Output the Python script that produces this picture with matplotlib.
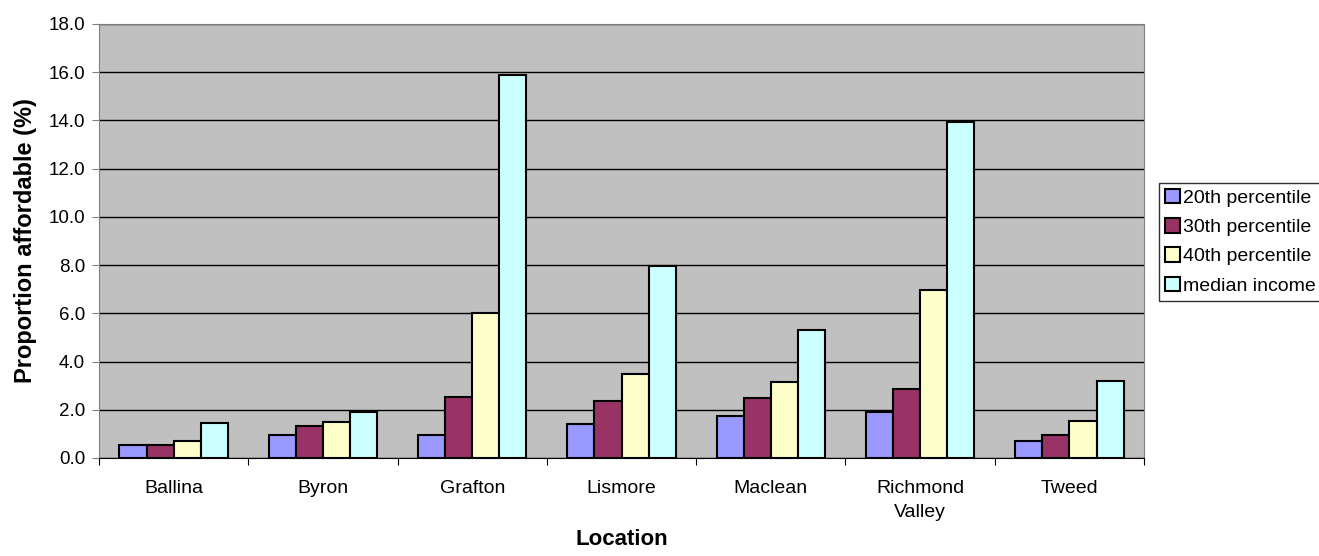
import numpy as np
import matplotlib
matplotlib.use('Agg')
import matplotlib.pyplot as plt

plt.rcParams['font.family'] = ['Liberation Sans', 'DejaVu Sans']

locations = ['Ballina', 'Byron', 'Grafton', 'Lismore', 'Maclean', 'Richmond\nValley', 'Tweed']
series_names = ['20th percentile', '30th percentile', '40th percentile', 'median income']
p20 = [0.55, 0.94, 0.95, 1.41, 1.76, 1.90, 0.72]
p30 = [0.55, 1.31, 2.52, 2.38, 2.48, 2.87, 0.96]
p40 = [0.72, 1.51, 6.02, 3.49, 3.17, 6.95, 1.52]
median = [1.45, 1.89, 15.87, 7.96, 5.29, 13.92, 3.18]
colors = ['#9999FF', '#993366', '#FFFFCC', '#CCFFFF']

fig = plt.figure(figsize=(13.19, 5.56), dpi=100)
ax = fig.add_axes([99 / 1319, 98 / 556, 1045 / 1319, 434 / 556])
ax.set_facecolor('#C0C0C0')

x = np.arange(len(locations))
width = 1 / 5.5
for i, (vals, name, col) in enumerate(zip([p20, p30, p40, median], series_names, colors)):
    ax.bar(x + (i - 1.5) * width, vals, width, color=col, edgecolor='black',
           linewidth=1.5, label=name, zorder=3)

ax.set_xlim(-0.5, len(locations) - 0.5)
ax.set_ylim(0, 18)
ax.set_yticks(np.arange(0, 18.1, 2))
ax.set_yticklabels(['%.1f' % v for v in np.arange(0, 18.1, 2)])
ax.yaxis.grid(True, color='black', linewidth=1, zorder=1)
ax.set_axisbelow(True)

# category ticks sit between groups, labels centred under each group
ax.set_xticks(np.arange(-0.5, len(locations)), minor=False)
ax.set_xticklabels([])
ax.set_xticks(x, minor=True)
ax.set_xticklabels(locations, minor=True, fontsize=14, linespacing=1.5)
ax.tick_params(axis='x', which='minor', length=0, pad=16)
ax.tick_params(axis='x', which='major', length=5, direction='out', color='black')
ax.tick_params(axis='y', length=5, pad=5, direction='out', labelsize=13.5, color='#808080')

for side in ['top', 'right', 'left']:
    ax.spines[side].set_color('#808080')
ax.spines['bottom'].set_color('black')

ax.set_ylabel('Proportion affordable (%)', fontsize=17, fontweight='bold', labelpad=8)
ax.set_xlabel('Location', fontsize=16, fontweight='bold')
ax.xaxis.set_label_coords(0.5, -(529 - 458) / 434)

leg = fig.legend(loc='upper left', bbox_to_anchor=(1159 / 1319, 1 - 183 / 556),
                 fontsize=14, frameon=True, fancybox=False, edgecolor='black',
                 handlelength=0.77, handleheight=0.77, handletextpad=0.15,
                 borderpad=0.3, labelspacing=0.58, borderaxespad=0)
leg.get_frame().set_linewidth(1)

fig.savefig('out.png', dpi=100, facecolor='white')
